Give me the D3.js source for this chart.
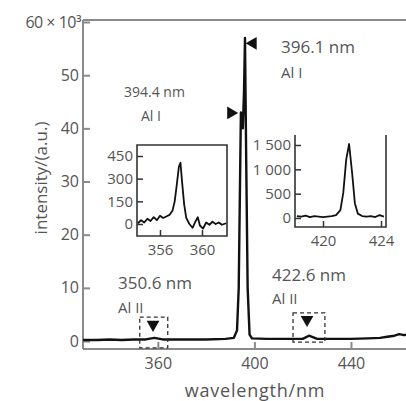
<!DOCTYPE html>
<html>
<head>
<meta charset="utf-8">
<script src="https://cdn.jsdelivr.net/npm/d3@7"></script>
<style>
  body { margin: 0; background: #fff; }
  text { font-family: "Open Sans", "DejaVu Sans", sans-serif; fill: #555; }
</style>
</head>
<body>
<div id="chart"></div>
<script>
// main spectrum (wavelength nm, intensity x10^3)
var mainWave = [329, 335, 340, 345, 350, 355, 358.6, 362, 370, 380, 388, 391.5, 392.8, 393.5, 394.4, 395.2, 395.7, 396.1, 396.6, 397.2, 398, 399, 405, 412, 420, 422.6, 426, 432, 440, 447, 452, 455, 458, 460, 462, 463];
var mainInt  = [0.2, 0.2, 0.3, 0.2, 0.3, 0.3, 0.6, 0.3, 0.3, 0.3, 0.4, 0.6, 2, 10, 43, 40, 47, 57, 34, 10, 1.2, 0.5, 0.4, 0.4, 0.4, 1.0, 0.4, 0.4, 0.4, 0.5, 0.6, 0.8, 1.0, 1.3, 1.1, 1.2];
var mainTicksX = [360, 400, 440];
var mainTicksY = [0, 10, 20, 30, 40, 50, 60];

// inset 1: Al II 358.6 region
var in1Wave = [353.9, 354.2, 354.5, 354.8, 355.1, 355.4, 355.7, 356.0, 356.3, 356.6, 356.9, 357.2, 357.4, 357.6, 357.8, 357.95, 358.1, 358.3, 358.5, 358.8, 359.1, 359.4, 359.6, 359.8, 360.1, 360.4, 360.7, 361.0, 361.3, 361.6, 361.9, 362.3];
var in1Int  = [5, 25, 10, 35, 20, 45, 25, 55, 40, 50, 60, 90, 150, 260, 380, 405, 280, 130, 40, 0, -25, 20, 45, -10, -30, 10, -5, 15, 0, 10, -5, 5];
var in1TicksX = [356, 360];
var in1TicksY = [0, 150, 300, 450];

// inset 2: Al II 422.6 region
var in2Wave = [418.2, 418.5, 418.8, 419.1, 419.4, 419.7, 420.0, 420.3, 420.6, 420.9, 421.2, 421.4, 421.6, 421.8, 422.0, 422.2, 422.4, 422.7, 423.0, 423.3, 423.6, 423.9, 424.2];
var in2Int  = [40, 30, 50, 20, 40, 30, 20, 30, 40, 60, 160, 520, 1200, 1520, 950, 300, 90, 40, 30, 40, 20, 60, 30];
var in2TicksX = [420, 424];
var in2TicksY = [0, 500, 1000, 1500];
var in2TickText = ["0", "500", "1 000", "1 500"];

var W = 406, H = 401;
var svg = d3.select("#chart").append("svg")
  .attr("width", W).attr("height", H);

var grey = "#8a8a8a";

// ---- main panel ----
var x = d3.scaleLinear().domain([329, 463]).range([83, 406.5]);
var y = d3.scaleLinear().domain([-1.5, 60]).range([349, 22]);

// frame
svg.append("line").attr("x1", 83).attr("x2", W).attr("y1", 20).attr("y2", 20)
  .attr("stroke", grey).attr("stroke-width", 2);
svg.append("line").attr("x1", 83).attr("x2", W).attr("y1", 349).attr("y2", 349)
  .attr("stroke", grey).attr("stroke-width", 2);

var yAxis = svg.append("g").attr("transform", "translate(83,0)")
  .call(d3.axisLeft(y).tickValues(mainTicksY).tickSize(-7).tickPadding(4)
    .tickFormat(function(d) { return d == 60 ? "60 × 10³" : d; }));
var xAxis = svg.append("g").attr("transform", "translate(0,349)")
  .call(d3.axisBottom(x).tickValues(mainTicksX).tickSize(-7).tickPadding(9));

[yAxis, xAxis].forEach(function(a) {
  a.select(".domain").attr("stroke", grey).attr("stroke-width", 2);
  a.selectAll(".tick line").attr("stroke", grey).attr("stroke-width", 2);
  a.selectAll(".tick text").style("font-size", "16px").attr("fill", "#555");
});
yAxis.select(".domain").attr("d", "M0,20V349");
yAxis.selectAll(".tick text").filter(function(d) { return d == 60; })
  .attr("x", -2).style("letter-spacing", "-0.5px");
xAxis.select(".domain").remove();

var line = d3.line().x(function(d, i) { return x(mainWave[i]); })
  .y(function(d) { return y(d); });
svg.append("path").datum(mainInt)
  .attr("d", line).attr("fill", "none")
  .attr("stroke", "#111").attr("stroke-width", 2.4)
  .attr("stroke-linejoin", "round");

// peak markers
var tri = d3.symbol().type(d3.symbolTriangle).size(70);
svg.append("path").attr("d", tri())
  .attr("transform", "translate(" + (x(396.1) + 8) + "," + y(56) + ") rotate(-90)")
  .attr("fill", "#111");
svg.append("path").attr("d", tri())
  .attr("transform", "translate(" + (x(394.4) - 10) + "," + y(42.9) + ") rotate(90)")
  .attr("fill", "#111");
svg.append("path").attr("d", tri())
  .attr("transform", "translate(" + x(358) + "," + y(3.1) + ") rotate(180)")
  .attr("fill", "#111");
svg.append("path").attr("d", tri())
  .attr("transform", "translate(" + x(421.8) + "," + y(4.0) + ") rotate(180)")
  .attr("fill", "#111");

// dashed boxes
var boxes = [[352.5, 364.1, 4.5, -1.3], [416, 429.2, 5.3, -0.2]];
boxes.forEach(function(b) {
  svg.append("rect")
    .attr("x", x(b[0])).attr("y", y(b[2]))
    .attr("width", x(b[1]) - x(b[0])).attr("height", y(b[3]) - y(b[2]))
    .attr("fill", "none").attr("stroke", "#333").attr("stroke-width", 1.3)
    .attr("stroke-dasharray", "4,3");
});

// annotations
var notes = [
  ["396.1 nm", 281, 53, 17], ["Al I", 281, 78, 15],
  ["394.4 nm", 124, 97, 14], ["Al I", 141, 121, 14],
  ["350.6 nm", 118, 289, 17], ["Al II", 118, 313, 15],
  ["422.6 nm", 272, 281, 17], ["Al II", 272, 304, 15]
];
svg.selectAll("text.note").data(notes).enter().append("text")
  .attr("class", "note")
  .attr("x", function(d) { return d[1]; })
  .attr("y", function(d) { return d[2]; })
  .style("font-size", function(d) { return d[3] + "px"; })
  .text(function(d) { return d[0]; });

// axis titles
svg.append("text").attr("x", 255).attr("y", 397)
  .attr("text-anchor", "middle").style("font-size", "18px")
  .style("letter-spacing", "0.8px")
  .text("wavelength/nm");
svg.append("text")
  .attr("transform", "translate(47,178) rotate(-90)")
  .attr("text-anchor", "middle").style("font-size", "17px")
  .text("intensity/(a.u.)");

// ---- insets ----
function inset(opts) {
  var g = svg.append("g");
  var ix = d3.scaleLinear().domain([opts.tx[0], opts.tx[1]]).range([opts.px[0], opts.px[1]]);
  var iy = d3.scaleLinear().domain([opts.ty[0], opts.ty[1]]).range([opts.py[0], opts.py[1]]);
  var f = opts.frame;
  g.append("rect").attr("x", f[0]).attr("y", f[1]).attr("width", f[2] - f[0]).attr("height", f[3] - f[1])
    .attr("fill", "#fff").attr("stroke", "none");
  var fr = "M" + f[0] + "," + f[1] + "V" + f[3] + "H" + f[2] + "V" + f[1];
  if (opts.top) fr += "Z";
  g.append("path").attr("d", fr).attr("fill", "none")
    .attr("stroke", "#333").attr("stroke-width", 1.6);

  var ya = g.append("g").attr("transform", "translate(" + f[0] + ",0)")
    .call(d3.axisLeft(iy).tickValues(opts.yt).tickSize(-6).tickPadding(4)
      .tickFormat(function(d, i) { return opts.ytext ? opts.ytext[i] : d; }));
  var xa = g.append("g").attr("transform", "translate(0," + f[3] + ")")
    .call(d3.axisBottom(ix).tickValues(opts.xt).tickSize(-6).tickPadding(8)
      .tickFormat(d3.format("d")));
  [ya, xa].forEach(function(a) {
    a.select(".domain").remove();
    a.selectAll(".tick line").attr("stroke", "#333").attr("stroke-width", 1.5);
    a.selectAll(".tick text").style("font-size", "15px").attr("fill", "#555");
  });

  var l = d3.line().x(function(d, i) { return ix(opts.wave[i]); })
    .y(function(d) { return iy(d); });
  g.append("path").datum(opts.vals).attr("d", l)
    .attr("fill", "none").attr("stroke", "#111").attr("stroke-width", 1.8)
    .attr("stroke-linejoin", "round");
}

inset({
  wave: in1Wave, vals: in1Int,
  tx: [356, 360], px: [160, 202],
  ty: [0, 450], py: [224, 156],
  xt: in1TicksX, yt: in1TicksY,
  frame: [137, 145, 227, 236], top: true
});
inset({
  wave: in2Wave, vals: in2Int,
  tx: [420, 424], px: [323, 381],
  ty: [0, 1500], py: [218, 145],
  xt: in2TicksX, yt: in2TicksY, ytext: in2TickText,
  frame: [295, 135, 386, 227], top: false
});
</script>
</body>
</html>
